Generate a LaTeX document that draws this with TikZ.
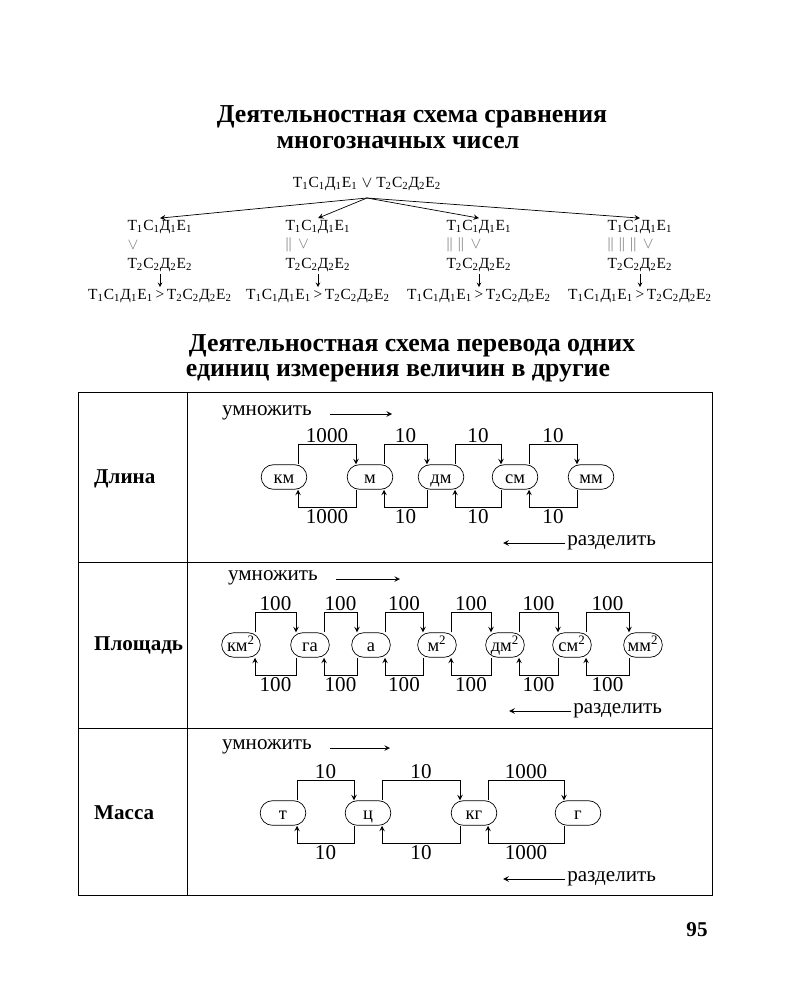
\documentclass[tikz,border=0pt]{standalone}
\usepackage{fontspec}
\setmainfont{Liberation Serif}
\usetikzlibrary{positioning}
\newcommand\tcde[1]{Т\textsubscript{#1}С\textsubscript{#1}Д\textsubscript{#1}Е\textsubscript{#1}}
\newcommand\res{\tcde{1}\,>\,\tcde{2}}
\tikzset{
  unit/.style={draw,rounded corners=7pt,minimum width=26pt,minimum height=14pt,inner sep=1pt,
    text height=1.7ex,text depth=.2ex,font=\fontsize{10.5}{11}\selectfont},
  conn/.style={->,>=stealth,thin},
  num/.style={font=\fontsize{12}{13}\selectfont,inner sep=1pt},
  lab/.style={font=\bfseries\fontsize{12}{13}\selectfont,anchor=west},
  small/.style={font=\fontsize{8.8}{10}\selectfont,inner sep=1pt},
  ttl/.style={font=\bfseries\fontsize{14.7}{16}\selectfont}
}
\newcommand\conn[4]{%
  \draw[conn] ([xshift=8]#1.north) -- ++(0,-20) -| ([xshift=-8]#2.north) node[num,pos=.25,above]{#3};
  \draw[conn] ([xshift=-8]#2.south) -- ++(0,18) -| ([xshift=8]#1.south) node[num,pos=.25,below]{#4};}
\begin{document}
\begin{tikzpicture}[x=0.02cm,y=-0.02cm]
\useasboundingbox[fill=white] (0,0) rectangle (791,1000);
% titles
\node[ttl] (t1) at (412,117) {Деятельностная схема сравнения};
\node[ttl] (t2) at (398,143) {многозначных чисел};
% comparison scheme
\node[small] (top) at (367,184) {\tcde{1} $\vee$ \tcde{2}};
\coordinate (o) at (367,198);
\foreach \x/\n/\s in {160/a/$\vee$, 318/b/{||\, $\vee$}, 479/c/{||\,\,||\, $\vee$}, 640/d/{||\,\,||\,\,||\, $\vee$}}{
  \node[small] (\n1) at (\x,227) {\tcde{1}};
  \node[small,text=gray,anchor=west] (\n s) at (\n1.west |- 0,245) {\s};
  \node[small] (\n2) at (\x,265) {\tcde{2}};
  \node[small] (\n3) at (\x,296) {\res};
  \draw[->,>=stealth,very thin] (\n2.south) -- (\n3.north);
  \draw[->,>=stealth,thin] (o) -- (\n1.north);
}
\node[ttl] (t3) at (412,346) {Деятельностная схема перевода одних};
\node[ttl] (t4) at (398,373) {единиц измерения величин в другие};
% table
\draw[thin] (78,392) rectangle (712,895);
\draw[thin] (187,392) -- (187,895) (78,562) -- (712,562) (78,728) -- (712,728);
\node[lab] (l1) at (88,479) {Длина};
\node[lab] (l2) at (88,645) {Площадь};
\node[lab] (l3) at (88,813) {Масса};
% length
\node[unit] (km) at (284,477) {км};
\node[unit] (m) at (370,477) {м};
\node[unit] (dm) at (441,477) {дм};
\node[unit] (sm) at (515,477) {см};
\node[unit] (mm) at (591,477) {мм};
\conn{km}{m}{1000}{1000}
\conn{m}{dm}{10}{10}
\conn{dm}{sm}{10}{10}
\conn{sm}{mm}{10}{10}
\node[num,anchor=west] (u1) at (220,413) {умножить};
\draw[conn] (330,414) -- (392,414);
\node[num,anchor=east] (r1) at (658,543) {разделить};
\draw[conn] (r1.west) -- ++(-62,0);
% area
\node[unit,minimum width=22pt] (km2) at (241,645) {км\textsuperscript{2}};
\node[unit,minimum width=22pt] (ga) at (310,645) {га};
\node[unit,minimum width=22pt] (a) at (371,645) {а};
\node[unit,minimum width=22pt] (m2) at (437,645) {м\textsuperscript{2}};
\node[unit,minimum width=22pt] (dm2) at (505,645) {дм\textsuperscript{2}};
\node[unit,minimum width=22pt] (sm2) at (572,645) {см\textsuperscript{2}};
\node[unit,minimum width=22pt] (mm2) at (643,645) {мм\textsuperscript{2}};
\conn{km2}{ga}{100}{100}
\conn{ga}{a}{100}{100}
\conn{a}{m2}{100}{100}
\conn{m2}{dm2}{100}{100}
\conn{dm2}{sm2}{100}{100}
\conn{sm2}{mm2}{100}{100}
\node[num,anchor=west] (u2) at (226,578) {умножить};
\draw[conn] (336,579) -- (400,579);
\node[num,anchor=east] (r2) at (664,711) {разделить};
\draw[conn] (r2.west) -- ++(-62,0);
% mass
\node[unit] (t) at (283,813) {т};
\node[unit] (c) at (368,813) {ц};
\node[unit] (kg) at (474,813) {кг};
\node[unit] (g) at (578,813) {г};
\conn{t}{c}{10}{10}
\conn{c}{kg}{10}{10}
\conn{kg}{g}{1000}{1000}
\node[num,anchor=west] (u3) at (220,747) {умножить};
\draw[conn] (330,748) -- (390,748);
\node[num,anchor=east] (r3) at (658,879) {разделить};
\draw[conn] (r3.west) -- ++(-62,0);
\node[font=\bfseries\fontsize{12}{13}\selectfont] (pg) at (697,930) {95};
\end{tikzpicture}
\end{document}
